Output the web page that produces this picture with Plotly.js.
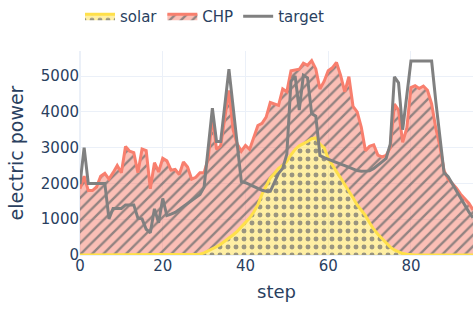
<!DOCTYPE html>
<html>
<head>
<meta charset="utf-8">
<script src="https://cdn.plot.ly/plotly-3.0.1.min.js"></script>
<style>html,body{margin:0;padding:0;background:#fff;}#chart{width:473px;height:311px;}</style>
</head>
<body>
<div id="chart"></div>
<script>
var steps = [];
for (var i = 0; i < 96; i++) steps.push(i);

var solar = [0,0,0,0,0,0,0,0,0,0, 0,0,0,0,0,0,0,0,0,0, 0,0,0,0,0,0,0,0,0,20,
  60,110,170,230,300,380,470,560,660,780, 900,1030,1200,1400,1700,1950,2150,2280,2420,2500,
  2620,2800,2950,3050,3100,3170,3250,3270,3100,3000, 2700,2500,2330,2150,1950,1780,1600,1400,1250,1100,
  900,720,580,460,330,220,140,80,40,20, 5,0,0,0,0,0,0,0,0,0, 0,0,0,0,0,0];

var chp = [1850,2200,1800,1800,1900,2200,2280,2120,2300,2500,
  2300,3030,2900,2860,2300,2960,2920,1850,2580,2320,
  2700,2630,2370,2390,2250,2600,2460,2120,2170,2280,
  2240,2590,3730,2720,2750,3400,4130,2940,2440,2120,
  2160,1920,2120,2220,1980,1900,2110,1940,1760,2140,
  1940,2350,2220,2140,2260,2130,2180,1930,1540,1850,
  2450,2730,3050,2870,2610,3200,2550,2600,2320,1810,
  2140,2360,2210,2280,2450,2780,4080,3970,3110,3530,
  4675,4730,4650,4720,4600,4220,3550,3040,2360,2110,
  2000,1870,1700,1580,1450,1260];

var target = [1980,3000,2000,2000,2000,2000,2000,1010,1300,1300,
  1300,1400,1400,1400,1030,1010,720,620,1290,900,
  1580,1100,1140,1190,1270,1350,1440,1520,1600,1690,
  1900,3000,4100,3170,3170,4180,5190,4150,3100,2050,
  2020,1960,1910,1860,1810,1780,1780,2050,2280,2420,
  2820,4850,5000,4050,5020,4950,3950,3880,2780,2720,
  2670,2620,2580,2540,2500,2450,2400,2360,2340,2340,
  2350,2420,2500,2600,2700,3100,4980,4810,3500,4460,
  5420,5420,5420,5420,5420,5420,4300,3300,2300,2190,
  2000,1800,1600,1400,1200,1040];

var traces = [
  {x: steps, y: solar, name: 'solar', type: 'scatter', mode: 'lines', stackgroup: 'one',
   line: {color: '#FFE04A', width: 3},
   fillcolor: 'rgba(255,224,74,0.5)',
   fillpattern: {shape: '.', fgcolor: '#6f6f6f', fgopacity: 0.7, bgcolor: 'rgba(255,224,74,0.5)', size: 8, solidity: 0.3}},
  {x: steps, y: chp, name: 'CHP', type: 'scatter', mode: 'lines', stackgroup: 'one',
   line: {color: '#F87F6E', width: 3},
   fillcolor: 'rgba(248,127,110,0.5)',
   fillpattern: {shape: '/', fgcolor: '#6f6f6f', fgopacity: 0.75, bgcolor: 'rgba(248,127,110,0.5)', size: 8, solidity: 0.3}},
  {x: steps, y: target, name: 'target', type: 'scatter', mode: 'lines',
   line: {color: '#808080', width: 3}}
];

var layout = {
  width: 473, height: 311,
  margin: {l: 80, r: 0, t: 30, b: 56},
  paper_bgcolor: '#fff', plot_bgcolor: '#fff',
  font: {family: 'DejaVu Sans', size: 15, color: '#2a3f5f'},
  showlegend: true,
  legend: {orientation: 'h', traceorder: 'normal', x: 0, xanchor: 'left', y: 1.09, yanchor: 'bottom', font: {size: 15}},
  xaxis: {title: {text: 'step', font: {size: 18}, standoff: 11}, range: [0, 95], gridcolor: '#EBF0F8', zerolinecolor: '#EBF0F8', zerolinewidth: 2, tickvals: [0,20,40,60,80], showline: false, ticks: ''},
  yaxis: {title: {text: 'electric power', font: {size: 19}, standoff: 12}, range: [0, 5700], gridcolor: '#EBF0F8', zerolinecolor: '#EBF0F8', zerolinewidth: 2, tickvals: [0,1000,2000,3000,4000,5000], showline: false, ticks: ''}
};

Plotly.newPlot('chart', traces, layout, {displayModeBar: false, staticPlot: true});
</script>
</body>
</html>
